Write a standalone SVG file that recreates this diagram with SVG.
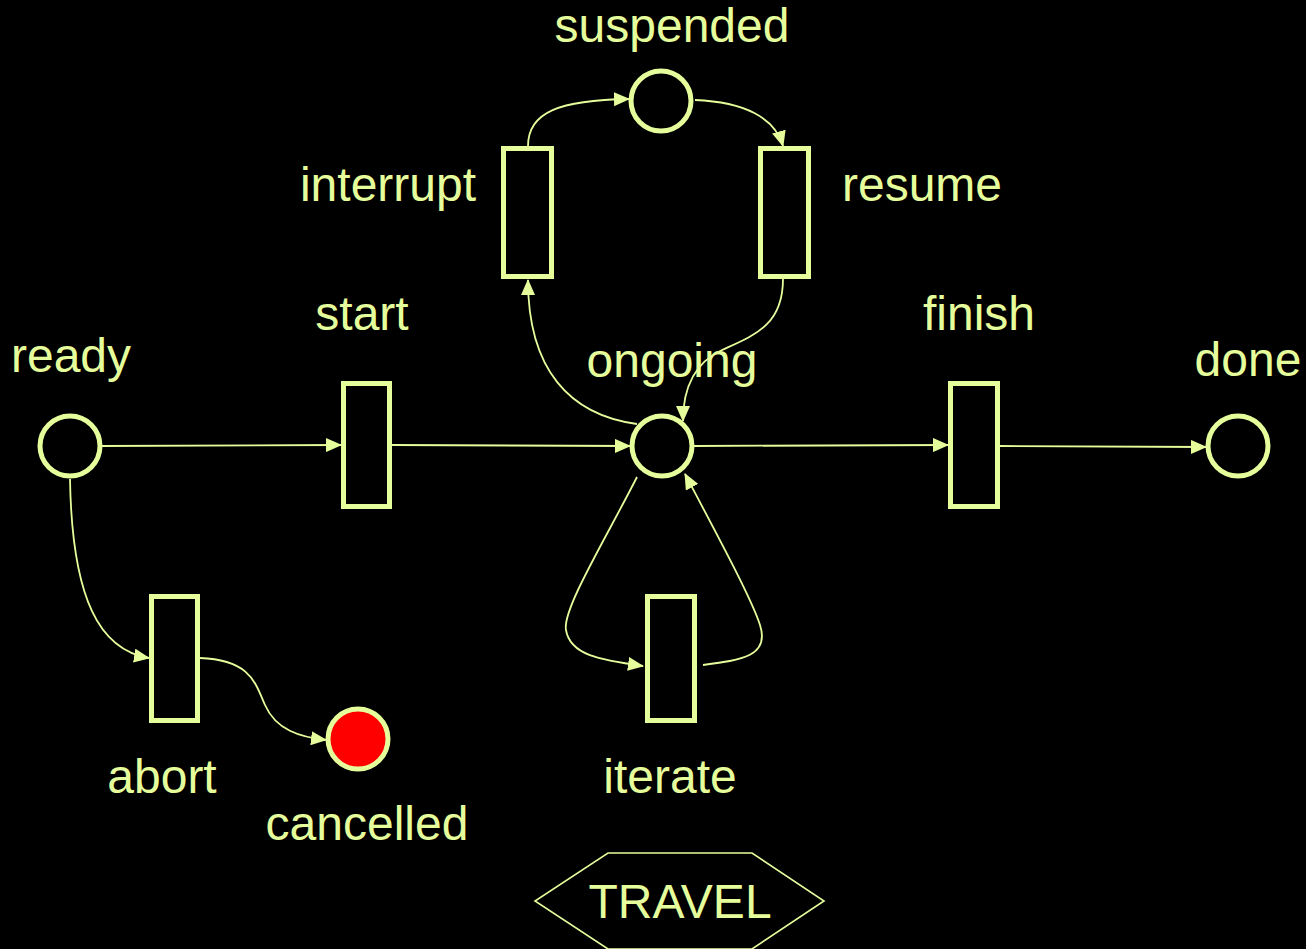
<svg xmlns="http://www.w3.org/2000/svg" width="1306" height="949" viewBox="0 0 1306 949">
<style>
.bg{fill:#000}
.pl{fill:#000;stroke:#e6fd9c;stroke-width:5}
.tr{fill:#000;stroke:#e6fd9c;stroke-width:5}
.red{fill:#ff0000;stroke:#e6fd9c;stroke-width:5}
.lb{fill:#e6fd9c;font-family:"Liberation Sans",Arial,sans-serif;font-size:48px;text-anchor:middle}
.cn{fill:none;stroke:#e6fd9c;stroke-width:1.8}
.hex{fill:#000;stroke:#e6fd9c;stroke-width:1.6}
</style>
<defs>
<marker id="ah" markerUnits="userSpaceOnUse" markerWidth="16" markerHeight="14" refX="15" refY="7" orient="auto">
<path d="M0,0 L16,7 L0,14 z" fill="#e6fd9c"/>
</marker>
</defs>
<rect class="bg" x="0" y="0" width="1306" height="949"/>
<g id="connectors">
<path class="cn" d="M102,446 L341,445" marker-end="url(#ah)"/>
<path class="cn" d="M392,445 L630,446" marker-end="url(#ah)"/>
<path class="cn" d="M694,446 L948,445" marker-end="url(#ah)"/>
<path class="cn" d="M1000,446 L1206,447" marker-end="url(#ah)"/>
<path class="cn" d="M637,424 C570,415 528,370 528,280" marker-end="url(#ah)"/>
<path class="cn" d="M528,146 C528,112 560,100 629,99" marker-end="url(#ah)"/>
<path class="cn" d="M695,100 C745,102 775,118 783,146" marker-end="url(#ah)"/>
<path class="cn" d="M783,279 C783,325 755,335 722,350 C692,364 683,392 683,421" marker-end="url(#ah)"/>
<path class="cn" d="M637,477 C605,540 562,610 566,630 C570,655 600,660 643,666" marker-end="url(#ah)"/>
<path class="cn" d="M703,665 C742,660 770,656 760,625 C752,600 720,540 685,474" marker-end="url(#ah)"/>
<path class="cn" d="M70,479 C72,600 100,650 149,658" marker-end="url(#ah)"/>
<path class="cn" d="M200,658 C250,660 255,682 265,705 C276,730 300,737 326,740" marker-end="url(#ah)"/>
</g>
<g id="ready"><circle class="pl" cx="70" cy="446" r="30"/><text class="lb" x="71" y="372">ready</text></g>
<g id="start"><rect class="tr" x="343.5" y="383.5" width="46" height="123"/><text class="lb" x="362" y="330">start</text></g>
<g id="ongoing"><circle class="pl" cx="662" cy="446" r="30"/><text class="lb" x="672" y="377">ongoing</text></g>
<g id="finish"><rect class="tr" x="950.5" y="383.5" width="47" height="123"/><text class="lb" x="979" y="330">finish</text></g>
<g id="done"><circle class="pl" cx="1238" cy="446" r="30"/><text class="lb" x="1248" y="376">done</text></g>
<g id="suspended"><circle class="pl" cx="661" cy="101" r="30"/><text class="lb" x="672" y="42">suspended</text></g>
<g id="interrupt"><rect class="tr" x="503.5" y="148.5" width="48" height="128"/><text class="lb" x="388" y="201">interrupt</text></g>
<g id="resume"><rect class="tr" x="760.5" y="148.5" width="48" height="128"/><text class="lb" x="922" y="201">resume</text></g>
<g id="iterate"><rect class="tr" x="647.5" y="596.5" width="47" height="124"/><text class="lb" x="670" y="793">iterate</text></g>
<g id="abort"><rect class="tr" x="151.5" y="596.5" width="46" height="124"/><text class="lb" x="162" y="793">abort</text></g>
<g id="cancelled"><circle class="red" cx="358" cy="739" r="30"/><text class="lb" x="367" y="840">cancelled</text></g>
<g id="travel"><polygon class="hex" points="608,853 752,853 824,901 752,949 608,949 535,901"/><text class="lb" x="680" y="918">TRAVEL</text></g>
</svg>
